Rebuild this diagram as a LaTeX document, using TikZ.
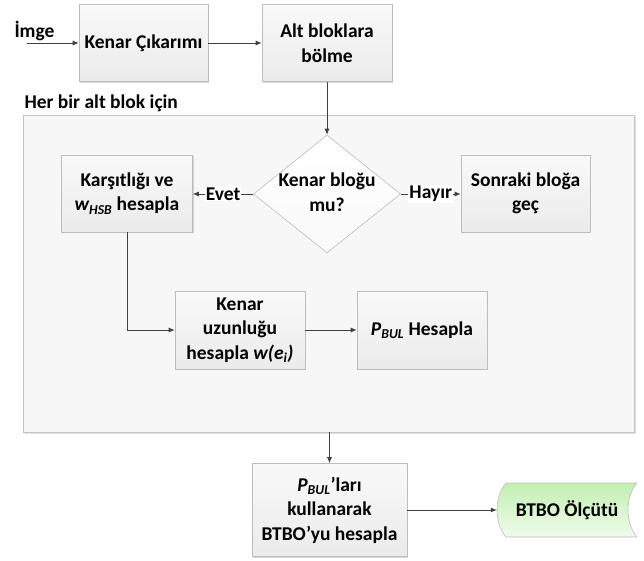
\documentclass[tikz,border=0pt]{standalone}
\usepackage{fontspec}
\setmainfont{Carlito}
\usetikzlibrary{arrows.meta,shapes.geometric,shadows}
\definecolor{boxline}{HTML}{BDBDBD}
\definecolor{boxtop}{HTML}{F9F9F9}
\definecolor{boxbot}{HTML}{EBEBEB}
\definecolor{contfill}{HTML}{F7F7F7}
\definecolor{contline}{HTML}{C4C4C4}
\definecolor{arrcol}{HTML}{404040}
\definecolor{greentop}{HTML}{C3EFB2}
\definecolor{greenbot}{HTML}{F0FBEC}
\begin{document}
\begin{tikzpicture}[x=1pt,y=-1pt,
  every node/.style={font=\fontsize{19.5}{24.5}\selectfont\bfseries},
  procbox/.style={draw=boxline, line width=0.6pt, top color=boxtop, bottom color=boxbot,
    align=center, inner sep=2pt,
    drop shadow={shadow xshift=1.2pt, shadow yshift=-1.2pt, opacity=0.25, fill=black!60}},
  contbox/.style={draw=contline, line width=0.8pt, fill=contfill,
    drop shadow={shadow xshift=1.5pt, shadow yshift=-1.5pt, opacity=0.2, fill=black!60}},
  decbox/.style={diamond, draw=boxline, line width=0.6pt, fill=white, top color=white, bottom color=boxtop, inner sep=0pt},
  arr/.style={draw=arrcol, line width=0.8pt, -{Latex[length=6pt,width=5pt]}},
  lbl/.style={fill=white, inner sep=1pt}
]
\useasboundingbox (0,0) rectangle (644,561);

% top row
\node[anchor=west] (imge) at (11,31) {İmge};
\coordinate (inp) at (27,43);
\node[procbox, minimum width=129pt, minimum height=77pt] (b1) at (143.5,43) {Kenar Çıkarımı};
\node[procbox, minimum width=130pt, minimum height=77pt] (b2) at (327,43) {Alt bloklara\\bölme};

% container
\node[contbox, minimum width=611pt, minimum height=317pt] (cont) at (328.5,273.5) {};
\node[anchor=west] (lab) at (21,103) {Her bir alt blok için};

% decision
\node[decbox, minimum width=147pt, minimum height=118pt] (dec) at (327,194) {};
\node[align=center] (dectext) at (327,192) {Kenar bloğu\\mu?};

\node[procbox, minimum width=131pt, minimum height=77pt] (k) at (127,193.5) {Karşıtlığı ve\\\textit{w\textsubscript{HSB}} hesapla};
\node[procbox, minimum width=129pt, minimum height=77pt] (s) at (525.5,193.5) {Sonraki bloğa\\geç};

\node[procbox, minimum width=130pt, minimum height=78pt] (ku) at (240,330) {Kenar\\uzunluğu\\hesapla \textit{w(e\textsubscript{i})}};
\node[procbox, minimum width=130pt, minimum height=78pt] (pb) at (422,330) {\textit{P\textsubscript{BUL}} Hesapla};

% bottom
\node[procbox, minimum width=155pt, minimum height=93pt] (fin) at (329.5,510) {\textit{P\textsubscript{BUL}}’ları\\kullanarak\\BTBO’yu hesapla};

\draw[draw=boxline, line width=0.6pt, top color=greentop, bottom color=greenbot]
  (506,483) -- (637,483) .. controls (625,497) and (625,523) .. (637,537)
  -- (506,537) .. controls (494,523) and (494,497) .. (506,483) -- cycle;
\node[minimum width=140pt, minimum height=54pt, inner sep=0pt] (out) at (567,510) {BTBO Ölçütü};

% connectors
\draw[arr] (inp) -- (inp -| b1.west);
\draw[arr] (b1) -- (b2);
\draw[arr] (b2.south) -- (dec.north);
\draw[arr] (dec.west) -- node[lbl] {Evet} (dec.west -| k.east);
\draw[arr] (dec.east) -- node[lbl] {Hayır} (dec.east -| s.west);
\draw[arr] (k.south) |- (ku.west);
\draw[arr] (ku) -- (pb);
\draw[arr] (fin.north |- cont.south) -- (fin.north);
\draw[arr] (fin.east) -- (out.west);
\end{tikzpicture}
\end{document}
